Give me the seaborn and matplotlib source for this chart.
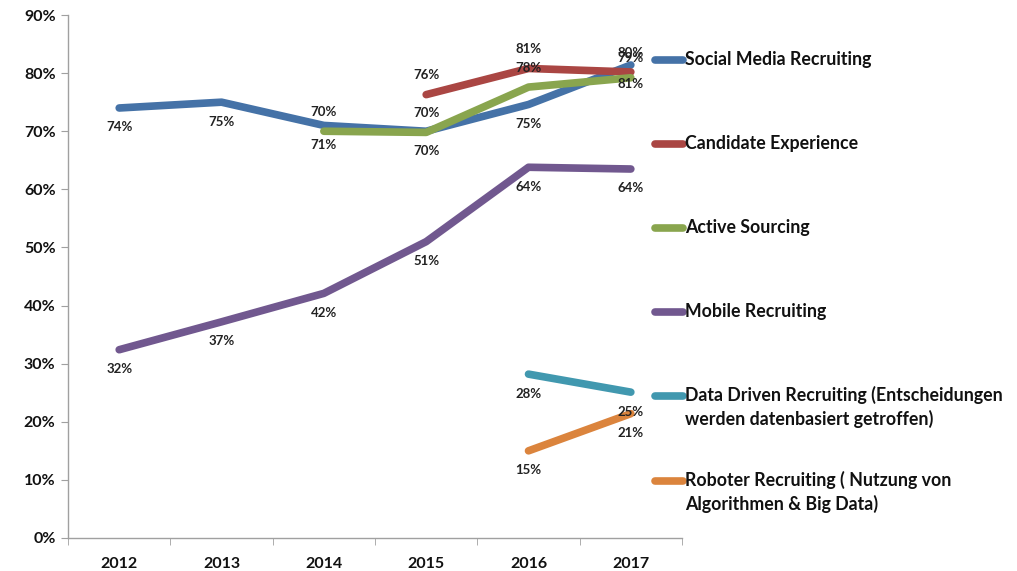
import numpy as np
import pandas as pd
import matplotlib
matplotlib.use("Agg")
import matplotlib.pyplot as plt
import seaborn as sns
from matplotlib.lines import Line2D

# ── Data ─────────────────────────────────────────────────────────────────────
years = ["2012", "2013", "2014", "2015", "2016", "2017"]

social_media = [74, 75, 71, 70, 74.6, 81.4]
candidate_exp = [np.nan, np.nan, np.nan, 76.3, 80.8, 80.2]
active_sourcing = [np.nan, np.nan, 70, 69.8, 77.6, 79.2]
mobile = [32.4, 37.2, 42.1, 51, 63.8, 63.5]
data_driven = [np.nan, np.nan, np.nan, np.nan, 28.2, 25.1]
roboter = [np.nan, np.nan, np.nan, np.nan, 15, 21.4]

series_names = [
    "Social Media Recruiting",
    "Candidate Experience",
    "Active Sourcing",
    "Mobile Recruiting",
    "Data Driven Recruiting (Entscheidungen\nwerden datenbasiert getroffen)",
    "Roboter Recruiting ( Nutzung von\nAlgorithmen & Big Data)",
]
series_values = [social_media, candidate_exp, active_sourcing, mobile, data_driven, roboter]
colors = ["#4572A7", "#AA4643", "#89A54E", "#71588F", "#4198AF", "#DB843D"]
# label position: +1 above the point, -1 below
label_side = [-1, 1, 1, -1, -1, -1]

rows = []
for name, vals in zip(series_names, series_values):
    for i, v in enumerate(vals):
        if not np.isnan(v):
            rows.append({"series": name, "idx": i, "value": v})
df = pd.DataFrame(rows)

# ── Plot ─────────────────────────────────────────────────────────────────────
sns.set_style("white")
plt.rcParams["font.family"] = ["Lato", "DejaVu Sans"]

fig = plt.figure(figsize=(10.17, 5.71), dpi=100)
ax = fig.add_axes([0.0669, 0.0578, 0.6037, 0.9159])

sns.lineplot(data=df, x="idx", y="value", hue="series", hue_order=series_names,
             palette=colors, linewidth=5.5, legend=False, ax=ax,
             solid_capstyle="round")

# data labels
for name, vals, side in zip(series_names, series_values, label_side):
    for i, v in enumerate(vals):
        if np.isnan(v):
            continue
        ax.annotate(f"{round(v)}%", (i, v), xytext=(0, 14 * side),
                    textcoords="offset points", ha="center", va="center",
                    fontsize=9.5, fontweight="bold", color="#222222")

ax.set_xlim(-0.5, 5.5)
ax.set_ylim(0, 90)
ax.set_xticks(range(len(years)))
ax.set_xticklabels(years)
ax.set_xticks(np.arange(-0.5, 6, 1), minor=True)
ax.set_yticks(range(0, 91, 10))
ax.set_yticklabels([f"{t}%" for t in range(0, 91, 10)])
ax.set_xlabel("")
ax.set_ylabel("")

for lab in ax.get_xticklabels() + ax.get_yticklabels():
    lab.set_fontweight("bold")
    lab.set_fontsize(11.5)
    lab.set_color("#111111")

ax.tick_params(axis="x", which="major", length=0, pad=14)
ax.tick_params(axis="x", which="minor", length=5, color="#a0a0a0", direction="out", bottom=True)
ax.tick_params(axis="y", length=5, color="#a0a0a0", direction="out", left=True, pad=4)

for s in ["top", "right"]:
    ax.spines[s].set_visible(False)
for s in ["left", "bottom"]:
    ax.spines[s].set_color("#a0a0a0")
    ax.spines[s].set_linewidth(1)

# ── Legend (drawn by hand, one entry per series at the right) ───────────────
legend_y_px = [60, 144, 228, 312, 396, 481]
W, H = 1017.0, 571.0
for name, col, ypx in zip(series_names, colors, legend_y_px):
    yf = 1 - ypx / H
    fig.add_artist(Line2D([655 / W, 683 / W], [yf, yf], color=col, linewidth=5.5,
                          solid_capstyle="round"))
    if "\n" in name:
        fig.text(685 / W, yf + 10 / H, name, ha="left", va="top",
                 fontsize=12.8, fontweight="bold", color="#111111", linespacing=1.4)
    else:
        fig.text(685 / W, yf, name, ha="left", va="center",
                 fontsize=12.8, fontweight="bold", color="#111111")

fig.savefig("out.png", dpi=100)
